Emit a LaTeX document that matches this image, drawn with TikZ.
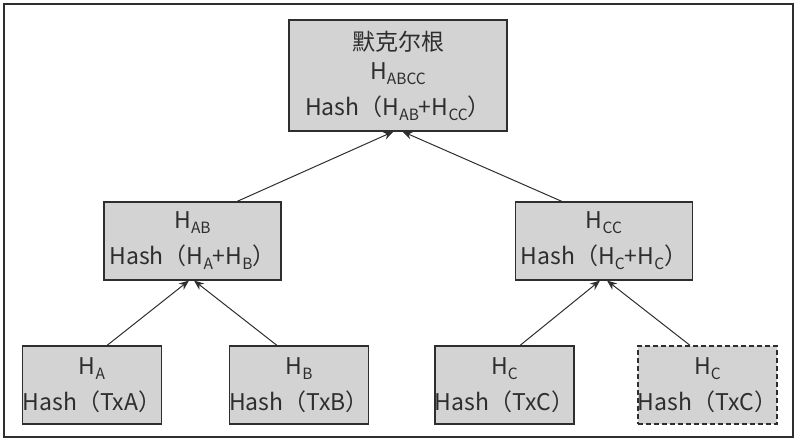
\documentclass[tikz,border=0pt]{standalone}
\usepackage{fontspec}
\setmainfont{Noto Sans CJK SC}
\usetikzlibrary{arrows.meta}
\definecolor{boxfill}{HTML}{D3D3D3}
\definecolor{ink}{HTML}{2E2E2E}
\newcommand{\hsub}[1]{\raisebox{-5pt}{\fontsize{15.5}{15.5}\selectfont #1}}
\begin{document}
\begin{tikzpicture}[x=1pt,y=-1pt,
  box/.style={draw=ink, fill=boxfill, line width=1.1pt, text=ink, inner sep=0pt,
    align=center, font=\fontsize{23}{36}\selectfont},
  rootbox/.style={box, minimum width=218pt, minimum height=111pt},
  midbox/.style={box, minimum width=177pt, minimum height=78pt},
  leafbox/.style={box, minimum width=138pt, minimum height=78pt},
  dashbox/.style={leafbox, line width=1.3pt, dash pattern=on 5pt off 3pt},
  arr/.style={draw=ink, line width=1pt, -{Stealth[length=10pt,width=8pt]}}]
\useasboundingbox (0,0) rectangle (800,441);
\draw[ink, line width=1.6pt] (4,4) rectangle (793,437);
\node[rootbox] (root) at (398,75.5) {默克尔根\\[-7pt]H\hsub{ABCC}\\Hash（H\hsub{AB}+H\hsub{CC}）};
\node[midbox] (hab) at (192.5,241) {H\hsub{AB}\\Hash（H\hsub{A}+H\hsub{B}）};
\node[midbox] (hcc) at (604,241) {H\hsub{CC}\\Hash（H\hsub{C}+H\hsub{C}）};
\node[leafbox] (ha) at (92,385) {H\hsub{A}\\Hash（TxA）};
\node[leafbox] (hb) at (299,385) {H\hsub{B}\\Hash（TxB）};
\node[leafbox] (hc) at (504.5,385) {H\hsub{C}\\Hash（TxC）};
\node[dashbox] (hcd) at (707.5,385) {H\hsub{C}\\Hash（TxC）};
\draw[arr] ([xshift=44.5pt]hab.north) -- ([xshift=-4.5pt]root.south);
\draw[arr] ([xshift=-42pt]hcc.north) -- ([xshift=4.5pt]root.south);
\draw[arr] ([xshift=15pt]ha.north) -- ([xshift=-3.5pt]hab.south);
\draw[arr] ([xshift=-22pt]hb.north) -- ([xshift=1.5pt]hab.south);
\draw[arr] ([xshift=15.5pt]hc.north) -- ([xshift=-4pt]hcc.south);
\draw[arr] ([xshift=-17.5pt]hcd.north) -- ([xshift=3pt]hcc.south);
\end{tikzpicture}
\end{document}
